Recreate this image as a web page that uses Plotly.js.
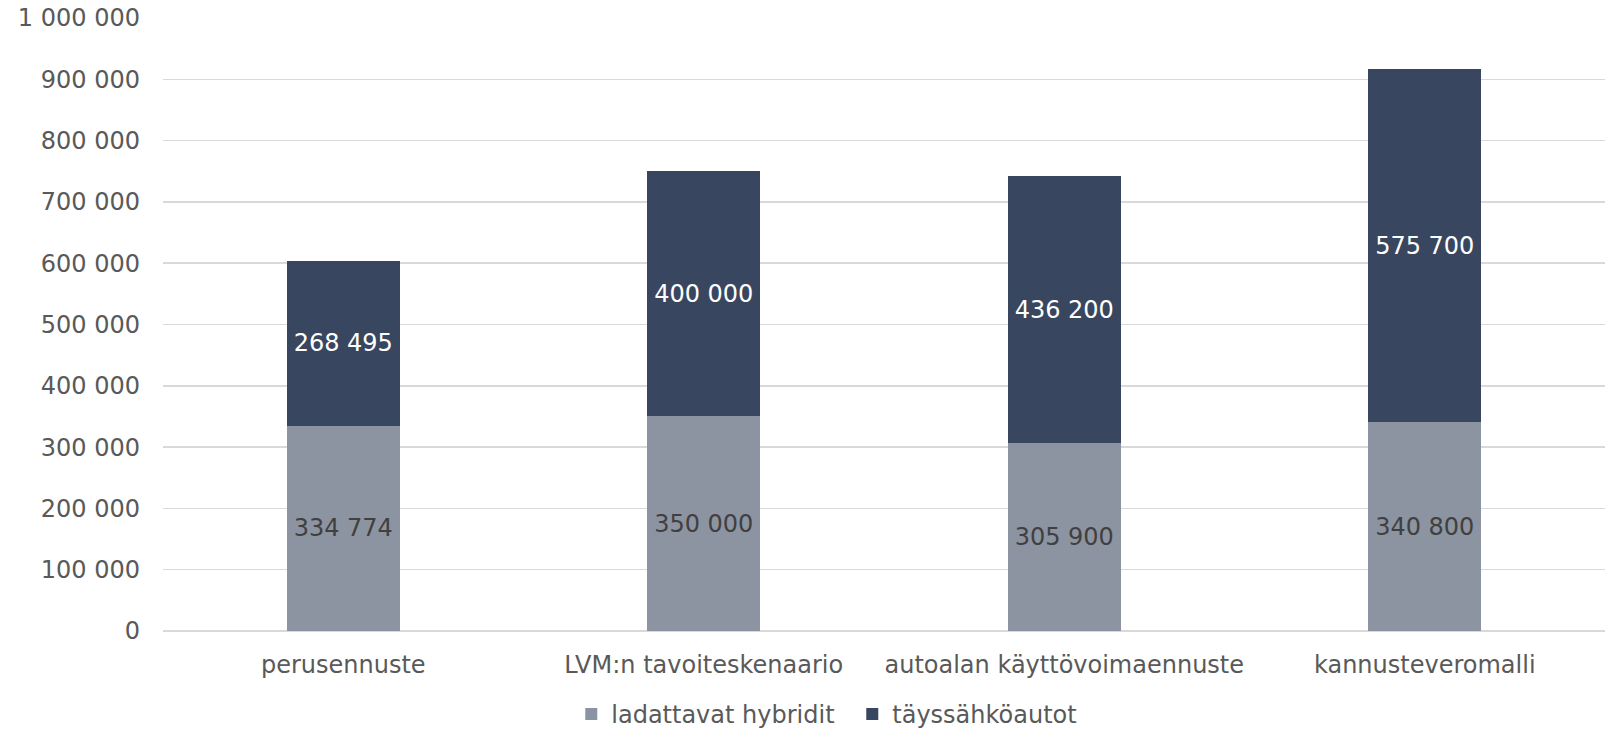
<!DOCTYPE html>
<html><head><meta charset="utf-8">
<script src="https://cdn.plot.ly/plotly-3.0.1.min.js"></script>
<style>html,body{margin:0;padding:0;background:#fff}#chart{width:1607px;height:731px}</style>
</head><body><div id="chart"></div>
<script>
const categories = ["perusennuste", "LVM:n tavoiteskenaario", "autoalan käyttövoimaennuste", "kannusteveromalli"];
const hybridValues = [334774, 350000, 305900, 340800];
const bevValues = [268495, 400000, 436200, 575700];
const seriesNames = ["ladattavat hybridit", "täyssähköautot"];
const yTickVals = [0,100000,200000,300000,400000,500000,600000,700000,800000,900000,1000000];

function fmt(v){ return String(v).replace(/\B(?=(\d{3})+(?!\d))/g, " "); }

const FONT = "DejaVu Sans, Verdana, sans-serif";
const traces = [
  {type:"bar", x:categories, y:hybridValues, name:seriesNames[0],
   marker:{color:"#8d94a1"}, text:hybridValues.map(fmt), textposition:"inside",
   insidetextanchor:"middle", constraintext:"none",
   textfont:{family:FONT, size:24, color:"#404040"}, hoverinfo:"none"},
  {type:"bar", x:categories, y:bevValues, name:seriesNames[1],
   marker:{color:"#39465f"}, text:bevValues.map(fmt), textposition:"inside",
   insidetextanchor:"middle", constraintext:"none",
   textfont:{family:FONT, size:24, color:"#ffffff"}, hoverinfo:"none"}
];
const layout = {
  width:1607, height:731, barmode:"stack", bargap:0.6875,
  paper_bgcolor:"#fff", plot_bgcolor:"#fff",
  margin:{l:163, r:2, t:18, b:100, pad:0, autoexpand:false},
  font:{family:FONT, size:24, color:"#595959"},
  showlegend:true,
  legend:{orientation:"h", x:0.478, xanchor:"center", y:-0.136, yanchor:"middle",
          font:{family:FONT, size:24, color:"#595959"}, traceorder:"normal", itemwidth:30,
          entrywidth:236, entrywidthmode:"pixels"},
  xaxis:{type:"category", showgrid:false, showline:false, ticks:"", zeroline:false, automargin:false,
         tickfont:{family:FONT, size:24, color:"#595959"}, ticklabelstandoff:17},
  yaxis:{range:[0,1000000], tickvals:yTickVals, ticktext:yTickVals.map(fmt), automargin:false,
         showgrid:true, gridcolor:"#d9d9d9", gridwidth:1.5, zeroline:true, zerolinecolor:"#d9d9d9", zerolinewidth:1.5,
         showline:false, ticks:"", tickfont:{family:FONT, size:24, color:"#595959"}, ticklabelstandoff:22}
};
Plotly.newPlot("chart", traces, layout, {displayModeBar:false, staticPlot:true});
</script></body></html>
